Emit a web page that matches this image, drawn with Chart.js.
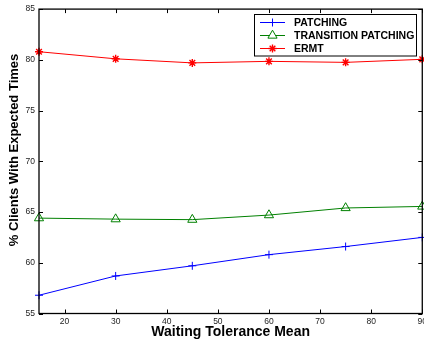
<!DOCTYPE html>
<html>
<head>
<meta charset="utf-8">
<script src="https://cdn.jsdelivr.net/npm/chart.js@4"></script>
<style>
  html, body { margin: 0; padding: 0; overflow: hidden; background: #fff; }
  #contenedor { width: 430px; height: 341px; }
</style>
</head>
<body>
<div id="contenedor"><canvas id="grafica" width="430" height="341"></canvas></div>
<script>
// datos
const esperaMedia = [15, 30, 45, 60, 75, 90];
const patching = [56.8, 58.7, 59.7, 60.8, 61.6, 62.5];
const transitionPatching = [64.4, 64.3, 64.25, 64.7, 65.4, 65.55];
const ermt = [80.8, 80.1, 79.7, 79.85, 79.75, 80.05];

const nombresSeries = ["PATCHING", "TRANSITION PATCHING", "ERMT"];
const ticksX = [20, 30, 40, 50, 60, 70, 80, 90];
const ticksY = [55, 60, 65, 70, 75, 80, 85];

const tituloX = "Waiting Tolerance Mean";
const tituloY = "% Clients With Expected Times";

function puntos(valores) {
    return esperaMedia.map((x, i) => ({ x: x, y: valores[i] }));
}

// marco, ticks hacia adentro, titulo Y y leyenda
const pluginMarco = {
    id: "marco",
    afterDraw(chart) {
        const ctx = chart.ctx;
        const area = chart.chartArea;
        const sx = chart.scales.x;
        const sy = chart.scales.y;
        ctx.save();
        ctx.strokeStyle = "#000";
        ctx.lineWidth = 1.3;
        ctx.strokeRect(area.left, area.top, area.right - area.left, area.bottom - area.top);

        ctx.lineWidth = 1;
        ctx.beginPath();
        ticksX.forEach(v => {
            const px = Math.round(sx.getPixelForValue(v)) + 0.5;
            ctx.moveTo(px, area.bottom); ctx.lineTo(px, area.bottom - 4);
            ctx.moveTo(px, area.top); ctx.lineTo(px, area.top + 4);
        });
        ticksY.forEach(v => {
            const py = Math.round(sy.getPixelForValue(v)) + 0.5;
            ctx.moveTo(area.left, py); ctx.lineTo(area.left + 4, py);
            ctx.moveTo(area.right, py); ctx.lineTo(area.right - 4, py);
        });
        ctx.stroke();

        // titulo del eje Y
        ctx.translate(14, 150);
        ctx.rotate(-Math.PI / 2);
        ctx.fillStyle = "#000";
        ctx.font = "bold 13px 'Liberation Sans', Arial, sans-serif";
        ctx.textAlign = "center";
        ctx.textBaseline = "middle";
        ctx.fillText(tituloY, 0, 0);
        ctx.restore();

        // leyenda
        ctx.save();
        ctx.fillStyle = "#fff";
        ctx.fillRect(254.5, 14.5, 162, 41.5);
        ctx.strokeStyle = "#000";
        ctx.lineWidth = 1;
        ctx.strokeRect(254.5, 14.5, 162, 41.5);
        const filas = [22.5, 35.5, 48.5];
        chart.data.datasets.forEach((ds, i) => {
            const y = filas[i];
            ctx.strokeStyle = ds.borderColor;
            ctx.lineWidth = 1;
            ctx.beginPath();
            ctx.moveTo(260, y); ctx.lineTo(285, y);
            ctx.stroke();
            ctx.fillStyle = "#fff";
            ctx.lineWidth = ds.pointBorderWidth;
            Chart.helpers.drawPoint(ctx, {
                pointStyle: ds.pointStyle,
                radius: ds.pointRadius,
                rotation: 0,
                borderWidth: ds.pointBorderWidth
            }, 272.5, y);
            ctx.fillStyle = "#000";
            ctx.font = "bold 10.5px 'Liberation Sans', Arial, sans-serif";
            ctx.textBaseline = "middle";
            ctx.fillText(ds.label, 294, y + 0.5);
        });
        ctx.restore();
    }
};

function crearGrafica() {
    const ctx = document.getElementById("grafica").getContext("2d");
    const colores = ["#0000ff", "#008000", "#ff0000"];
    const valores = [patching, transitionPatching, ermt];
    const estilos = ["cross", "triangle", "star"];
    const radios = [4, 5.3, 4];
    const grosores = [1, 1, 1.4];

    new Chart(ctx, {
        type: "line",
        data: {
            datasets: valores.map((v, i) => ({
                label: nombresSeries[i],
                data: puntos(v),
                borderColor: colores[i],
                backgroundColor: "rgba(0,0,0,0)",
                borderWidth: 1,
                pointStyle: estilos[i],
                pointRadius: radios[i],
                pointBorderColor: colores[i],
                pointBackgroundColor: "rgba(0,0,0,0)",
                pointBorderWidth: grosores[i],
                tension: 0,
                clip: false
            }))
        },
        options: {
            responsive: false,
            animation: false,
            layout: { padding: { top: 8.5, right: 5, left: 0, bottom: 0 } },
            plugins: { legend: { display: false }, tooltip: { enabled: false } },
            scales: {
                x: {
                    type: "linear",
                    min: 15,
                    max: 90,
                    afterBuildTicks: s => { s.ticks = ticksX.map(v => ({ value: v })); },
                    afterFit: s => { s.height = 27.5; },
                    grid: { display: false, drawTicks: false },
                    border: { display: false },
                    ticks: {
                        color: "#222",
                        padding: 3,
                        maxRotation: 0,
                        font: { family: "'Liberation Sans', Arial, sans-serif", size: 8.5 }
                    },
                    title: {
                        display: true,
                        text: tituloX,
                        color: "#000",
                        padding: { top: 0, bottom: 0 },
                        font: { family: "'Liberation Sans', Arial, sans-serif", size: 14, weight: "bold" }
                    }
                },
                y: {
                    min: 55,
                    max: 85,
                    afterBuildTicks: s => { s.ticks = ticksY.map(v => ({ value: v })); },
                    afterFit: s => { s.width = 39; },
                    grid: { display: false, drawTicks: false },
                    border: { display: false },
                    ticks: {
                        color: "#222",
                        padding: 4,
                        font: { family: "'Liberation Sans', Arial, sans-serif", size: 8.5 }
                    }
                }
            }
        },
        plugins: [pluginMarco]
    });
}

document.addEventListener("DOMContentLoaded", crearGrafica);
</script>
</body>
</html>
